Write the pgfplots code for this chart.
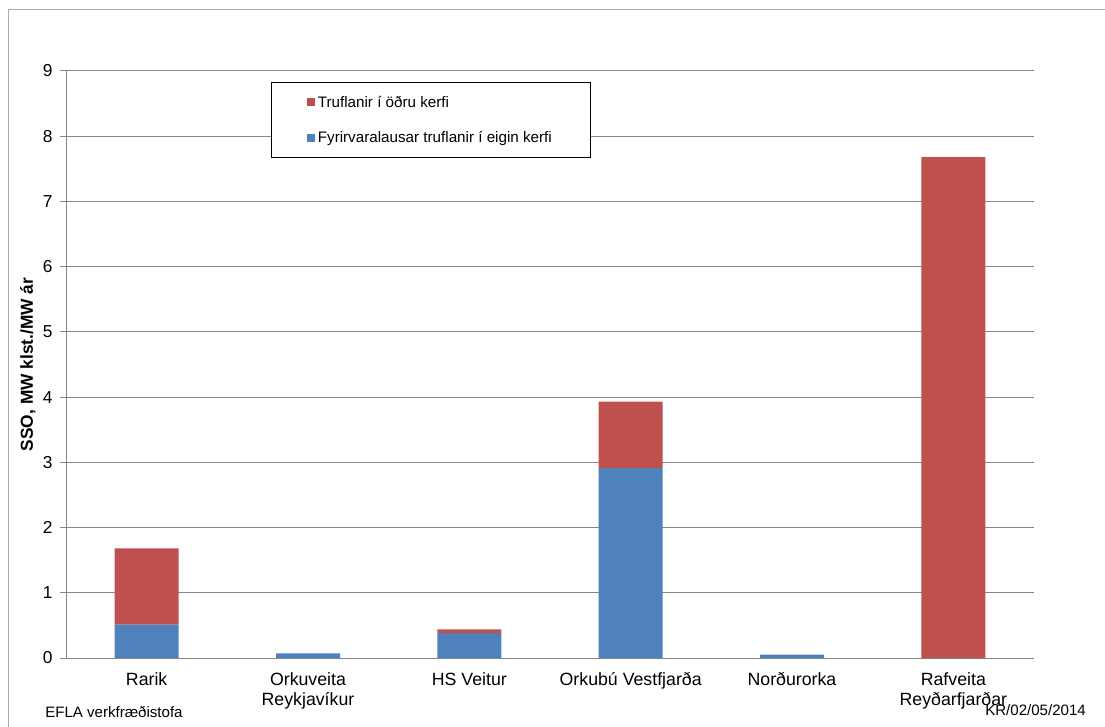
\documentclass[border=0pt]{standalone}
\usepackage{pgfplots}
\pgfplotsset{compat=1.18}
\usepackage{fontspec}
\setmainfont{Liberation Sans}
\definecolor{xred}{RGB}{192,80,77}
\definecolor{xblue}{RGB}{79,129,189}
\definecolor{gridgray}{RGB}{134,134,134}
\definecolor{framegray}{RGB}{170,170,170}
\begin{document}
\begin{tikzpicture}[x=1pt,y=1pt]
\useasboundingbox (0,0) rectangle (828.75,544.5);
\draw[framegray, line width=0.75pt] (6,-20) -- (6,537) -- (850,537);
\begin{axis}[
  at={(49.5pt,51pt)}, anchor=south west,
  scale only axis, width=726pt, height=440.25pt,
  ybar stacked, bar width=48pt,
  xmin=-0.5, xmax=5.5, ymin=0, ymax=9,
  axis lines*=left,
  axis line style={gridgray, line width=0.75pt},
  tick align=outside,
  tick pos=left,
  xtick={0,...,5},
  xticklabels={Rarik, {Orkuveita\\Reykjavíkur}, HS Veitur, Orkubú Vestfjarða, Norðurorka, {Rafveita\\Reyðarfjarðar}},
  xticklabel style={align=center, font=\fontsize{13.3}{15.3}\selectfont, yshift=-3pt},
  xtick style={draw=none},
  minor xtick={-0.5,0.5,...,5.5},
  minor tick length=4.5pt,
  minor tick style={gridgray, line width=0.75pt},
  ytick={0,...,9},
  major tick length=4.5pt,
  ytick style={gridgray, line width=0.75pt},
  yticklabel style={font=\fontsize{13}{15}\selectfont, xshift=-2pt},
  /pgf/number format/assume math mode=true,
  ymajorgrids=true,
  grid style={gridgray, line width=0.75pt},
  ylabel={SSO, MW klst./MW ár},
  ylabel style={font=\fontsize{13}{15}\selectfont\bfseries, at={(axis description cs:-0.0393,0.5)}, anchor=center},
  reverse legend,
  legend style={at={(rel axis cs:0.2118,0.9813)}, anchor=north west, draw=black, line width=0.75pt,
    font=\fontsize{11.4}{13.5}\selectfont, inner xsep=26.75pt, inner ysep=8pt, row sep=12.5pt,
    cells={anchor=west}},
  legend image code/.code={\fill[#1] (0pt,-3pt) rectangle (6pt,3pt);},
]
\addplot[fill=xblue, draw=none] coordinates {(0,0.51) (1,0.07) (2,0.38) (3,2.91) (4,0.05) (5,0)};
\addplot[fill=xred, draw=none] coordinates {(0,1.17) (1,0) (2,0.06) (3,1.02) (4,0) (5,7.68)};
\legend{Fyrirvaralausar truflanir í eigin kerfi, Truflanir í öðru kerfi}
\end{axis}
\node[anchor=west, font=\fontsize{11.3}{13.5}\selectfont, inner sep=0pt] at (33.75,10.5) {EFLA verkfræðistofa};
\node[anchor=west, font=\fontsize{11.3}{13.5}\selectfont, inner sep=0pt] at (738.75,12) {KR/02/05/2014};
\end{tikzpicture}
\end{document}
